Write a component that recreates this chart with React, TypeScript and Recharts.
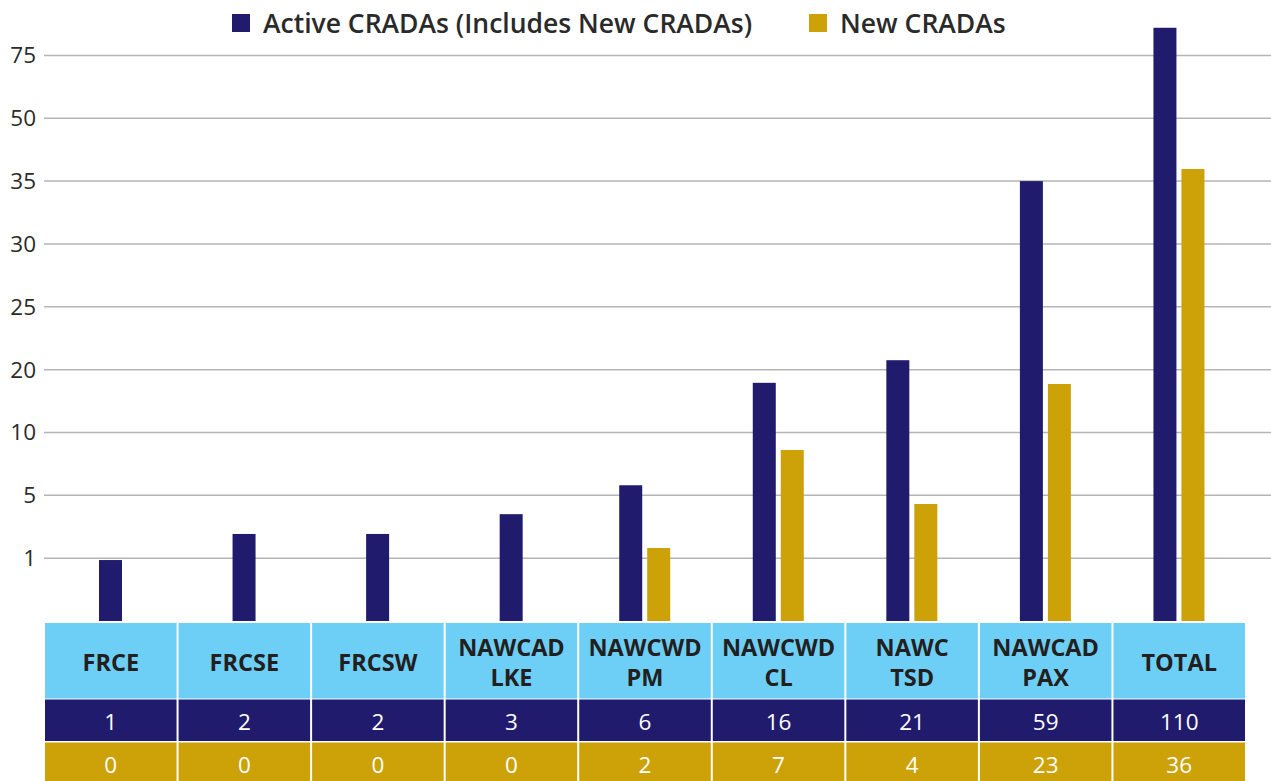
import React from "react";
import { BarChart, Bar, XAxis, YAxis, CartesianGrid } from "recharts";

// Table categories and the counts printed in the table
const categories = [
  "FRCE",
  "FRCSE",
  "FRCSW",
  "NAWCAD LKE",
  "NAWCWD PM",
  "NAWCWD CL",
  "NAWC TSD",
  "NAWCAD PAX",
  "TOTAL",
];
const activeCounts = [1, 2, 2, 3, 6, 16, 21, 59, 110];
const newCounts = [0, 0, 0, 0, 2, 7, 4, 23, 36];

// Bar heights as read against the chart's (unevenly labelled) value axis
const activeBarReadings = [0.97, 2.54, 2.54, 3.8, 5.8, 17.9, 20.75, 35, 86];
const newBarReadings = [0, 0, 0, 0, 1.64, 8.6, 4.44, 17.7, 37.9];

// Value-axis tick labels (equally spaced on the chart)
const yTickLabels = [1, 5, 10, 20, 25, 30, 35, 50, 75];

const seriesNames = ["Active CRADAs (Includes New CRADAs)", "New CRADAs"];

const NAVY = "#211B6D";
const GOLD = "#CDA108";
const SKY = "#6DCFF6";
const FONT = '"Open Sans", "Noto Sans", sans-serif';

const Y_DOMAIN_MAX = 9.5;

// map an axis value to its position on the evenly spaced label axis
function toSlot(v: number): number {
  const stops = [0, ...yTickLabels];
  for (let i = 1; i < stops.length; i++) {
    if (v <= stops[i]) {
      return i - 1 + (v - stops[i - 1]) / (stops[i] - stops[i - 1]);
    }
  }
  const n = stops.length;
  const lastStep = stops[n - 1] - stops[n - 2];
  return n - 1 + (v - stops[n - 1]) / lastStep;
}

const data = categories.map((c, i) => ({
  name: c,
  active: toSlot(activeBarReadings[i]),
  fresh: toSlot(newBarReadings[i]),
  activeCount: activeCounts[i],
  newCount: newCounts[i],
}));

const slotTicks = yTickLabels.map((_, i) => i + 1);

const ActiveShape = (props: any) => {
  const { x, y, width, height, payload } = props;
  if (!height || height <= 0) return null;
  const shift = payload && payload.newCount === 0 ? (width + 5) / 2 : 0;
  return <rect x={x + shift} y={y} width={width} height={height} fill={NAVY} />;
};

const TableTick = (props: any) => {
  const { x, y, payload } = props;
  const i = payload.index;
  const bw = payload.offset ? payload.offset * 2 : 133.56;
  const left = x - bw / 2;
  const top = y;
  const lines = categories[i].split(" ");
  const cx = x;
  return (
    <g>
      <rect x={left + 1} y={top + 2} width={bw - 2} height={75.5} fill={SKY} />
      <rect x={left + 1} y={top + 78.5} width={bw - 2} height={41.5} fill={NAVY} />
      <rect x={left + 1} y={top + 121.5} width={bw - 2} height={40} fill={GOLD} />
      {lines.map((l, k) => (
        <text
          key={k}
          x={cx}
          y={lines.length === 1 ? top + 40.5 : top + 25.5 + k * 30}
          textAnchor="middle"
          dominantBaseline="central"
          fontFamily={FONT}
          fontWeight={700}
          fontSize={23.5}
          fill="#231F20"
        >
          {l}
        </text>
      ))}
      <text
        x={cx}
        y={top + 100}
        textAnchor="middle"
        dominantBaseline="central"
        fontFamily={FONT}
        fontWeight={500}
        fontSize={22.5}
        fill="#FFFFFF"
      >
        {activeCounts[i]}
      </text>
      <text
        x={cx}
        y={top + 143}
        textAnchor="middle"
        dominantBaseline="central"
        fontFamily={FONT}
        fontWeight={500}
        fontSize={22.5}
        fill="#FFFFFF"
      >
        {newCounts[i]}
      </text>
    </g>
  );
};

const LegendBlock = () => (
  <div
    style={{
      position: "absolute",
      top: 5,
      left: 0,
      width: 1271,
      display: "flex",
      alignItems: "center",
      paddingLeft: 232,
      boxSizing: "border-box",
      fontFamily: FONT,
      fontWeight: 600,
      fontSize: 26.5,
      lineHeight: "36px",
      color: "#2A2A2A",
      whiteSpace: "nowrap",
    }}
  >
    {[NAVY, GOLD].map((c, k) => (
      <div
        key={k}
        style={{ display: "flex", alignItems: "center", marginRight: k === 0 ? 57 : 0 }}
      >
        <span
          style={{ display: "inline-block", width: 18, height: 18, background: c, marginRight: 13 }}
        />
        <span>{seriesNames[k]}</span>
      </div>
    ))}
  </div>
);

const gridRows = (p: any) => {
  const off = p && p.offset;
  if (!off) return [];
  return slotTicks.map((t) => off.top + off.height * (1 - t / Y_DOMAIN_MAX));
};

export default function App() {
  return (
    <div
      style={{
        position: "absolute",
        left: 0,
        top: 0,
        width: 1271,
        height: 781,
        background: "#fff",
        fontFamily: FONT,
      }}
    >
      <BarChart
        width={1271}
        height={781}
        data={data}
        margin={{ top: 24, right: 0, left: 0, bottom: 0 }}
        barGap={5}
        barSize={23}
      >
        <CartesianGrid
          vertical={false}
          stroke="#B5B5B5"
          strokeWidth={1.5}
          horizontalCoordinatesGenerator={gridRows}
        />
        <XAxis
          dataKey="name"
          type="category"
          height={160}
          interval={0}
          axisLine={false}
          tickLine={false}
          tickSize={0}
          tickMargin={0}
          padding={{ left: 0, right: 25 }}
          tick={<TableTick />}
        />
        <YAxis
          type="number"
          domain={[0, Y_DOMAIN_MAX]}
          ticks={slotTicks}
          width={44}
          axisLine={false}
          tickLine={false}
          tickMargin={2}
          tickFormatter={(v: number) => String(yTickLabels[v - 1])}
          tick={{ fontFamily: FONT, fontSize: 22.5, fontWeight: 500, fill: "#2B2B2B" }}
          allowDataOverflow
        />
        <Bar
          dataKey="active"
          name={seriesNames[0]}
          fill={NAVY}
          isAnimationActive={false}
          shape={<ActiveShape />}
        />
        <Bar dataKey="fresh" name={seriesNames[1]} fill={GOLD} isAnimationActive={false} />
      </BarChart>
      <LegendBlock />
    </div>
  );
}
